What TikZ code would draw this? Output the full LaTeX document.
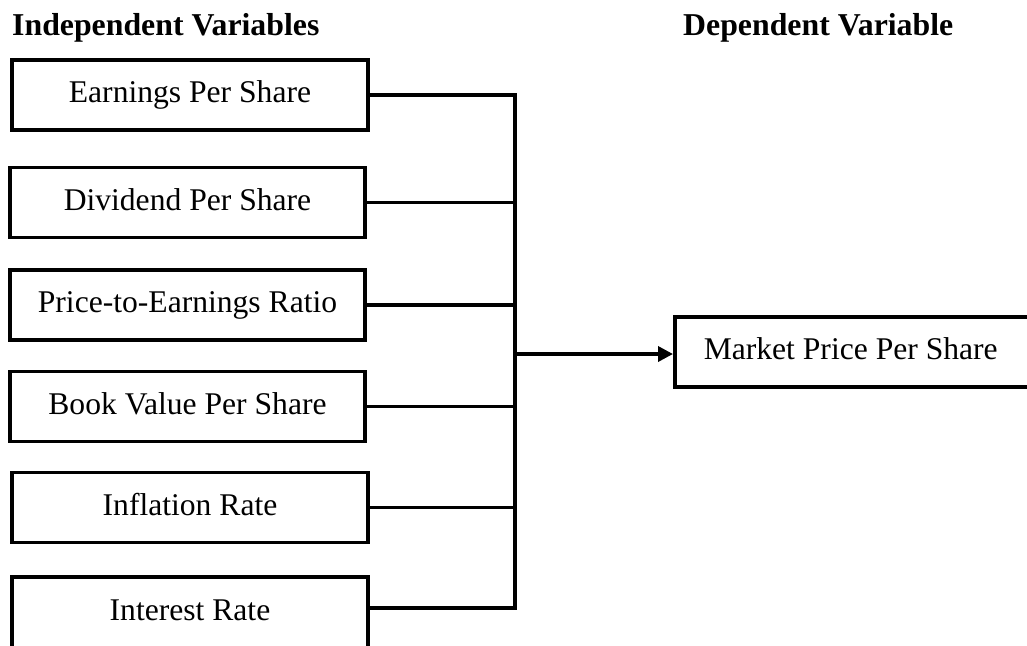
\documentclass[tikz,border=0pt]{standalone}
\usepackage{fontspec}
\setmainfont{Liberation Serif}
\usetikzlibrary{arrows.meta}
\begin{document}
\begin{tikzpicture}[x=1pt,y=-1pt,
  lw/.style={line width=3.5pt},
  varbox/.style={draw, lw, rectangle, inner sep=0pt, minimum width=355pt, minimum height=70pt,
    text height=22pt, text depth=7pt, font=\fontsize{31.6}{38}\selectfont},
  head/.style={anchor=base west, inner sep=0pt, font=\fontsize{31.8}{38}\selectfont\bfseries},
  link/.style={lw, line cap=rect}
]
\useasboundingbox (0,0) rectangle (1027,645);
\clip (0,0) rectangle (1027,645);
\node[head] (hind) at (12,35) {Independent Variables};
\node[head] (hdep) at (683,35) {Dependent Variable};

\node[varbox, minimum width=356pt] (eps) at (190,95) {Earnings Per Share};
\node[varbox] (dps) at (187.5,202.5) {Dividend Per Share};
\node[varbox] (per) at (187.5,305) {Price-to-Earnings Ratio};
\node[varbox] (bvps) at (187.5,406.5) {Book Value Per Share};
\node[varbox, minimum width=356pt] (infl) at (190,507.5) {Inflation Rate};
\node[varbox, minimum width=356pt, minimum height=72pt] (intr) at (190,613) {Interest Rate};

\node[draw, lw, rectangle, anchor=west, inner xsep=29pt, inner ysep=0pt,
  minimum height=70pt, text height=22pt, text depth=7pt, font=\fontsize{31.6}{38}\selectfont] (mpps) at (673,352) {\makebox[338pt][l]{Market Price Per Share}};

\coordinate (bus) at (515,354);
\draw[link] (eps.east) -- (eps.east -| bus);
\draw[link] (dps.east) -- (dps.east -| bus);
\draw[link] (per.east) -- (per.east -| bus);
\draw[link] (bvps.east) -- (bvps.east -| bus);
\draw[link] (infl.east) -- (infl.east -| bus);
\draw[link] ([yshift=5pt]intr.east) -- ([yshift=5pt]intr.east -| bus);
\draw[lw] (eps.east -| bus) -- ([yshift=5pt]intr.east -| bus);
\draw[lw, -{Triangle[length=15pt,width=15pt]}] (bus) -- (bus -| mpps.west);
\end{tikzpicture}
\end{document}
